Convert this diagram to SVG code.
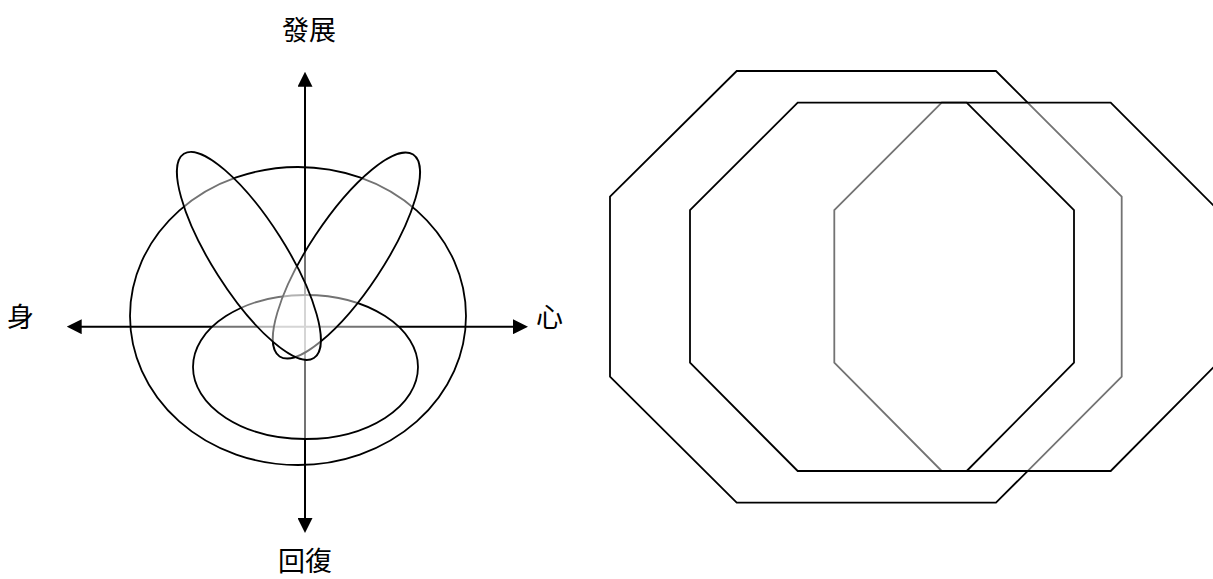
<svg xmlns="http://www.w3.org/2000/svg" width="1213" height="579" viewBox="0 0 1213 579">
<style>
.shape{fill:#fff;fill-opacity:0.45;stroke:#000;stroke-width:1.8}
.axis{stroke:#000;stroke-width:2;fill:none}
.lbl{font-family:"Noto Sans CJK TC","Noto Sans CJK SC",sans-serif;font-size:27px;fill:#000;text-anchor:middle}
</style>
<defs>
<marker id="arrow" viewBox="0 0 15 15" refX="5" refY="7.5" markerWidth="15" markerHeight="15" markerUnits="userSpaceOnUse" orient="auto-start-reverse">
<path d="M0,0 L15,7.5 L0,15 z" fill="#000"/>
</marker>
</defs>
<rect width="1213" height="579" fill="#fff"/>
<g id="outer-ellipse"><ellipse class="shape" cx="298" cy="316" rx="168" ry="149"/></g>
<g id="connectors">
<line class="axis" x1="305" y1="81.7" x2="305" y2="523" marker-start="url(#arrow)" marker-end="url(#arrow)"/>
<line class="axis" x1="76.7" y1="326.7" x2="518" y2="326.7" marker-start="url(#arrow)" marker-end="url(#arrow)"/>
</g>
<g id="inner-ellipse"><ellipse class="shape" cx="305.5" cy="367" rx="112.5" ry="72"/></g>
<g id="right-petal"><ellipse class="shape" cx="0" cy="0" rx="121" ry="37" transform="translate(346.4,255.5) rotate(-56.5)"/></g>
<g id="left-petal"><ellipse class="shape" cx="0" cy="0" rx="121" ry="36.5" transform="translate(248.9,255.9) rotate(57.5)"/></g>
<g id="label-up"><text class="lbl" x="309" y="40">發展</text></g>
<g id="label-down"><text class="lbl" x="305" y="571">回復</text></g>
<g id="label-left"><text class="lbl" x="20.5" y="327">身</text></g>
<g id="label-right"><text class="lbl" x="549.5" y="327">心</text></g>
<g id="octagon-large"><polygon class="shape" points="736.7,71 996,71 1121.7,196.7 1121.7,376.7 996,502.7 736.7,502.7 610,376.7 610,196.7"/></g>
<g id="octagon-right"><polygon class="shape" points="941.7,102.7 1110.7,102.7 1218,210 1218,362.7 1110.7,471 941.7,471 834.3,362.7 834.3,210"/></g>
<g id="octagon-left"><polygon class="shape" points="797.7,102.7 966.7,102.7 1074,210 1074,362.7 966.7,471 797.7,471 690,362.7 690,210"/></g>
</svg>
